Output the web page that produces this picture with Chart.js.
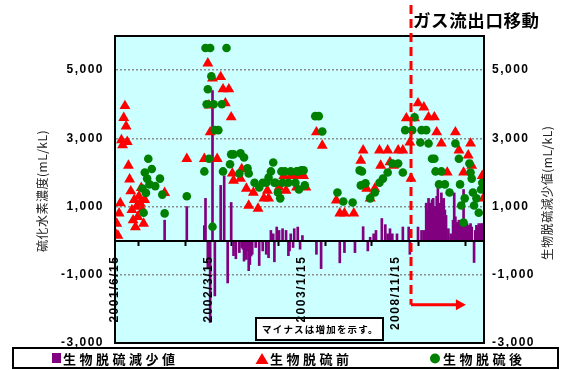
<!DOCTYPE html>
<html>
<head>
<meta charset="utf-8">
<script src="https://cdn.jsdelivr.net/npm/chart.js@4/dist/chart.umd.min.js"></script>
<style>
  html, body { margin: 0; padding: 0; background: #fff; }
  #wrap { width: 561px; height: 370px; }
</style>
</head>
<body>
<div id="wrap"><canvas id="c" width="561" height="370"></canvas></div>
<script>
const _ = null;

// Sample slots along the category axis (one slot per measurement)
const sampleCount = 316;
const xTickValues = [0, 40, 80, 120, 160, 200, 240, 280];
const xLabelAt = [0, 80, 160, 240];
const xLabelText = ['2001/6/15', '2002/3/15', '2003/1/15', '2008/11/15'];

const yTickValues = [-3000, -1000, 1000, 3000, 5000];
const yMin = -3000;
const yMax = 6000;

// 生物脱硫前 (mL/kL)
const beforeTreat = [
  /*   0 */ 200,500,150,800,1100,2950,2800,3600,3950,3350,2900,2200,1800,1450,900,600,1200,400,1000,700,
  /*  20 */ 1300,1100,1550,900,500,1200,_,_,_,_,_,_,_,_,_,_,_,_,_,_,
  /*  40 */ _,_,1400,_,_,_,_,_,_,_,_,_,_,_,_,_,_,_,_,_,
  /*  60 */ _,2400,_,_,_,_,_,_,_,_,_,_,_,_,_,_,2400,_,_,5200,
  /*  80 */ 3970,3180,_,4760,_,_,_,2400,_,_,4800,_,4440,_,4030,_,_,4440,_,3620,
  /* 100 */ 1970,1760,_,_,_,_,_,1820,2100,_,_,_,1530,_,1030,_,_,_,1410,_,
  /* 120 */ _,_,940,_,_,_,_,1240,_,_,1470,1240,_,_,_,_,_,_,_,_,
  /* 140 */ 1560,_,_,_,1900,_,1470,_,_,_,1900,_,_,1900,_,1560,_,_,_,1900,
  /* 160 */ _,1900,_,1560,_,_,_,_,_,_,_,_,3180,_,_,_,_,2790,_,_,
  /* 180 */ _,_,_,_,_,_,_,_,_,1180,_,_,800,_,_,_,800,_,_,_,
  /* 200 */ _,_,_,_,800,_,_,_,_,_,2350,_,2650,_,_,1530,_,_,1240,_,
  /* 220 */ _,_,1530,_,_,_,2650,2200,_,_,_,_,_,2650,_,2300,_,_,2200,_,
  /* 240 */ _,_,2650,_,_,_,2650,_,_,3590,_,_,2880,1820,_,_,3590,_,_,4030,
  /* 260 */ _,_,_,_,3910,_,_,_,3620,_,_,_,_,3620,_,3180,_,_,_,2850,
  /* 280 */ _,_,_,_,2000,_,_,_,_,_,_,3180,_,_,2650,_,_,_,2000,_,
  /* 300 */ _,_,2500,_,2850,2200,_,_,_,_,_,_,_,_,1900,1240
];

// 生物脱硫後 (mL/kL)
const afterTreat = [
  /*   0 */ _,_,_,_,_,_,_,_,_,_,_,_,_,_,_,_,_,_,_,_,
  /*  20 */ _,_,_,1530,820,2000,1400,1820,2400,1650,_,2100,_,_,1600,_,_,_,1820,_,
  /*  40 */ 1350,_,800,_,_,_,_,_,_,_,_,_,_,_,_,_,_,_,_,_,
  /*  60 */ _,1300,_,_,_,_,_,_,_,_,_,_,_,_,_,_,2030,5650,4000,4440,
  /*  80 */ 2400,5650,4820,410,4000,3240,_,_,3240,_,_,4000,2030,_,_,5650,_,_,2240,2530,
  /* 100 */ _,2530,_,_,_,_,1970,2560,_,_,2440,_,_,2120,1970,_,_,_,_,1700,
  /* 120 */ _,_,_,1560,_,_,1700,_,_,1700,_,1850,_,2030,_,2290,1700,1700,_,1410,
  /* 140 */ _,1240,2030,1700,_,2030,_,_,1700,_,2030,_,_,_,1700,2030,2030,1500,_,2060,
  /* 160 */ _,2060,1620,_,_,_,_,_,_,_,_,3650,_,_,3650,_,_,3200,_,_,
  /* 180 */ _,_,_,_,_,_,_,_,_,_,1410,_,_,_,_,1150,_,_,_,_,
  /* 200 */ _,_,_,1120,_,_,_,_,_,2060,1620,2030,_,_,1680,_,_,_,1240,_,
  /* 220 */ _,_,1410,_,_,_,1700,_,_,1820,_,_,_,2000,_,_,_,2260,_,_,
  /* 240 */ _,_,2260,_,_,_,2000,_,3240,_,_,_,_,_,3240,_,3620,_,_,_,
  /* 260 */ _,2880,3240,_,_,_,3240,_,2850,_,_,2400,_,2400,2030,_,_,1650,_,2030,
  /* 280 */ _,_,1650,_,_,_,1410,_,_,_,_,2850,_,_,2400,1650,1030,_,530,1240,
  /* 300 */ _,_,_,2260,2000,1820,1410,1030,_,1240,_,820,_,1500,1700,_
];

// 生物脱硫減少値 (mL/kL); negative = increase
const reduction = [
  /*   0 */ _,_,_,_,_,_,_,_,_,_,_,_,_,_,_,_,_,_,_,_,
  /*  20 */ _,_,_,_,_,_,_,_,_,_,_,_,_,_,_,_,_,_,_,_,
  /*  40 */ _,_,600,_,_,_,_,_,_,_,_,_,_,_,_,_,_,_,_,_,
  /*  60 */ _,1000,_,_,_,_,_,_,_,_,_,_,_,_,_,_,440,1240,_,-820,
  /*  80 */ _,-2400,_,4400,_,-1620,_,_,_,_,1620,_,_,1900,_,_,-1240,_,_,1120,
  /* 100 */ _,-440,_,-530,_,_,-350,_,-200,-250,-600,-400,-550,-300,-880,-700,-450,-400,_,_,
  /* 120 */ -200,_,_,-730,_,_,-300,_,_,-400,_,-500,_,300,_,200,-620,_,400,_,
  /* 140 */ 300,_,_,350,_,_,300,_,-440,-300,200,_,-200,350,_,_,400,_,-250,_,
  /* 160 */ 150,_,_,_,_,_,_,_,_,_,_,_,-400,_,_,_,-820,_,_,_,
  /* 180 */ _,_,_,_,_,_,_,_,_,_,_,_,-650,_,_,_,-350,_,_,_,
  /* 200 */ _,_,_,_,_,-350,_,_,_,_,_,_,410,_,_,_,-300,_,100,_,
  /* 220 */ _,200,_,300,_,_,_,_,650,_,_,470,_,200,_,350,_,200,_,_,
  /* 240 */ _,200,_,_,_,_,400,_,_,_,_,400,-400,_,_,_,_,_,_,400,
  /* 260 */ _,_,300,_,300,_,1100,900,1240,1100,_,1200,1240,1000,1000,1300,1530,_,1100,1400,
  /* 280 */ 1200,1240,900,740,_,350,_,200,_,600,1400,700,540,500,600,530,500,450,1500,600,
  /* 300 */ 500,500,400,450,500,400,_,-640,300,450,400,500,450,500,500,450
];

// Where the gas outlet was moved, and the extent of the arrow after it
const outletMovedAt = 253.5;
const arrowEndAt = 300.5;
const arrowLevel = -1880;

const toPoints = arr => arr
  .map((v, i) => (v === null ? null : { x: i + 0.5, y: v }))
  .filter(p => p !== null);

const tickFont = { family: "'Liberation Sans', Arial, sans-serif", size: 12, weight: 'bold' };
const jpFont = "'Noto Sans CJK JP', 'Noto Sans', sans-serif";
const fmt = v => Number(v).toLocaleString('en-US');

const frame = {
  id: 'frame',
  beforeDraw(chart) {
    const { ctx, chartArea: a } = chart;
    ctx.save();
    ctx.fillStyle = '#ffffff';
    ctx.fillRect(0, 0, chart.width, chart.height);
    ctx.fillStyle = '#CCFFFF';
    ctx.fillRect(a.left, a.top, a.right - a.left, a.bottom - a.top);
    ctx.restore();
    ctx.letterSpacing = '1.5px';
  },
  afterDatasetsDraw(chart) {
    const { ctx, chartArea: a, scales } = chart;
    ctx.save();
    ctx.letterSpacing = '0px';
    ctx.strokeStyle = '#000';
    ctx.lineWidth = 2;
    ctx.strokeRect(a.left, a.top, a.right - a.left, a.bottom - a.top);

    // gas outlet relocation marker
    const xm = scales.x.getPixelForValue(outletMovedAt);
    const xe = scales.x.getPixelForValue(arrowEndAt);
    const ya = scales.y.getPixelForValue(arrowLevel);
    ctx.strokeStyle = '#FF0000';
    ctx.fillStyle = '#FF0000';
    ctx.lineWidth = 3;
    ctx.setLineDash([9, 5]);
    ctx.beginPath();
    ctx.moveTo(xm, 5);
    ctx.lineTo(xm, ya);
    ctx.stroke();
    ctx.setLineDash([]);
    ctx.beginPath();
    ctx.moveTo(xm, ya);
    ctx.lineTo(xe - 9, ya);
    ctx.stroke();
    ctx.beginPath();
    ctx.moveTo(xe - 10, ya - 5.5);
    ctx.lineTo(xe, ya);
    ctx.lineTo(xe - 10, ya + 5.5);
    ctx.closePath();
    ctx.fill();

    // note box
    ctx.fillStyle = '#fff';
    ctx.fillRect(256, 318, 127, 22);
    ctx.strokeStyle = '#000';
    ctx.lineWidth = 2;
    ctx.strokeRect(256, 318, 127, 22);
    ctx.fillStyle = '#000';
    ctx.font = `bold 9.5px ${jpFont}`;
    ctx.letterSpacing = '1.2px';
    ctx.textAlign = 'left';
    ctx.textBaseline = 'middle';
    ctx.fillText('マイナスは増加を示す。', 262, 329);
    ctx.restore();
  },
  afterDraw(chart) {
    const { ctx } = chart;
    ctx.save();
    ctx.letterSpacing = '0.6px';
    ctx.fillStyle = '#000';
    ctx.textBaseline = 'middle';

    // heading of the relocation marker
    ctx.font = `bold 17.5px ${jpFont}`;
    ctx.textAlign = 'left';
    ctx.fillText('ガス流出口移動', 413, 20);

    // axis titles
    ctx.font = `12px ${jpFont}`;
    ctx.fillStyle = '#222';
    ctx.textAlign = 'center';
    ctx.letterSpacing = '0.5px';
    ctx.save();
    ctx.translate(42, 191);
    ctx.rotate(-Math.PI / 2);
    ctx.fillText('硫化水素濃度(mL/kL)', 0, 0);
    ctx.restore();
    ctx.save();
    ctx.translate(547, 193);
    ctx.rotate(-Math.PI / 2);
    ctx.fillText('生物脱硫減少値(mL/kL)', 0, 0);
    ctx.restore();

    // legend
    ctx.fillStyle = '#fff';
    ctx.fillRect(13, 348, 545, 20);
    ctx.strokeStyle = '#000';
    ctx.lineWidth = 2;
    ctx.strokeRect(13, 348, 545, 20);
    ctx.font = `bold 13px ${jpFont}`;
    ctx.letterSpacing = '3.5px';
    ctx.textAlign = 'left';
    ctx.fillStyle = '#800080';
    ctx.fillRect(52, 353, 9, 10);
    ctx.fillStyle = '#000';
    ctx.fillText('生物脱硫減少値', 63, 359);
    ctx.fillStyle = '#FF0000';
    ctx.beginPath();
    ctx.moveTo(262, 353);
    ctx.lineTo(268.5, 364);
    ctx.lineTo(255.5, 364);
    ctx.closePath();
    ctx.fill();
    ctx.fillStyle = '#000';
    ctx.fillText('生物脱硫前', 270, 359);
    ctx.fillStyle = '#008000';
    ctx.beginPath();
    ctx.arc(435, 358.5, 5, 0, Math.PI * 2);
    ctx.fill();
    ctx.fillStyle = '#000';
    ctx.fillText('生物脱硫後', 443, 359);
    ctx.restore();
  }
};

const yTicks = scale => { scale.ticks = yTickValues.map(v => ({ value: v })); };

new Chart(document.getElementById('c'), {
  type: 'scatter',
  data: {
    datasets: [
      {
        label: '生物脱硫後',
        data: toPoints(afterTreat),
        pointStyle: 'circle',
        pointRadius: 4.3,
        backgroundColor: '#008000',
        borderWidth: 0,
        order: 0
      },
      {
        label: '生物脱硫前',
        data: toPoints(beforeTreat),
        pointStyle: 'triangle',
        pointRadius: 6.3,
        backgroundColor: '#FF0000',
        borderWidth: 0,
        order: 1
      },
      {
        type: 'bar',
        label: '生物脱硫減少値',
        data: toPoints(reduction),
        backgroundColor: '#800080',
        barThickness: 2,
        order: 2
      }
    ]
  },
  options: {
    responsive: false,
    animation: false,
    layout: { padding: { top: 36, bottom: 27, left: 0, right: 0 } },
    plugins: { legend: { display: false }, tooltip: { enabled: false } },
    scales: {
      x: {
        type: 'linear',
        min: 0,
        max: sampleCount,
        offset: false,
        position: { y: 0 },
        afterBuildTicks: s => { s.ticks = xTickValues.map(v => ({ value: v })); },
        ticks: {
          autoSkip: false,
          minRotation: 90,
          maxRotation: 90,
          padding: 11,
          color: '#000',
          font: tickFont,
          z: 1,
          callback: v => {
            const k = xLabelAt.indexOf(v);
            return k < 0 ? '' : xLabelText[k];
          }
        },
        grid: { display: true, drawOnChartArea: false, drawTicks: true, tickLength: 4, tickColor: '#000', tickWidth: 2 },
        border: { display: true, color: '#000', width: 2, z: 1 }
      },
      y: {
        position: 'left',
        min: yMin,
        max: yMax,
        afterBuildTicks: yTicks,
        afterFit: s => { s.width = 115; },
        ticks: { padding: 11, color: '#000', font: tickFont, callback: fmt },
        grid: {
          drawTicks: false,
          lineWidth: 1.5,
          color: c => (c.tick && c.tick.value > yMin ? '#8c8c8c' : 'rgba(0,0,0,0)')
        },
        border: { display: true, color: '#000', width: 2, dash: [2, 2] }
      },
      y2: {
        position: 'right',
        min: yMin,
        max: yMax,
        afterBuildTicks: yTicks,
        afterFit: s => { s.width = 77; },
        ticks: { padding: 8, color: '#000', font: tickFont, callback: fmt },
        grid: { display: false, drawTicks: false },
        border: { display: true, color: '#000', width: 2 }
      }
    }
  },
  plugins: [frame]
});
</script>
</body>
</html>
